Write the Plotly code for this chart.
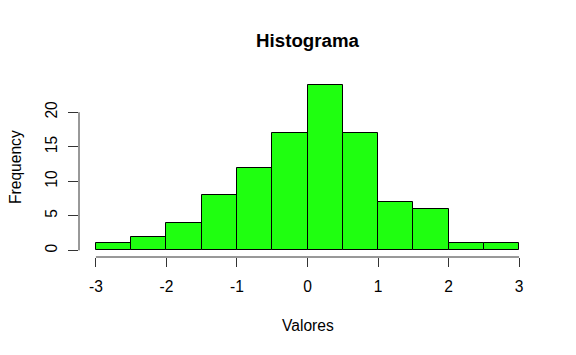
import plotly.graph_objects as go

bin_edges = [-3.0, -2.5, -2.0, -1.5, -1.0, -0.5, 0.0, 0.5, 1.0, 1.5, 2.0, 2.5, 3.0]
counts = [1, 2, 4, 8, 12, 17, 24, 17, 7, 6, 1, 1]
x_ticks = [-3, -2, -1, 0, 1, 2, 3]
y_ticks = [0, 5, 10, 15, 20]

centers = [(a + b) / 2 for a, b in zip(bin_edges[:-1], bin_edges[1:])]
widths = [b - a for a, b in zip(bin_edges[:-1], bin_edges[1:])]

FONT = "Liberation Sans, Arial, Helvetica, sans-serif"

fig = go.Figure()
fig.add_trace(go.Bar(
    x=centers, y=counts, width=widths,
    marker=dict(color="#1FFF10", line=dict(color="black", width=1)),
    hoverinfo="x+y",
))

fig.update_layout(
    width=576, height=355,
    margin=dict(l=79, r=40, t=78, b=98),
    paper_bgcolor="white", plot_bgcolor="white",
    showlegend=False,
    bargap=0,
    font=dict(family=FONT, size=15.6, color="black"),
    title=dict(text="<b>Histograma</b>", x=0.5, xref="paper", xanchor="center",
               y=1 - 40 / 355, yref="container", yanchor="middle",
               font=dict(size=18.7, family=FONT, color="black")),
    xaxis=dict(range=[-3.24, 3.24], tickvals=x_ticks, ticktext=[str(v) for v in x_ticks],
               ticks="outside", ticklen=9, tickcolor="#333", tickwidth=1,
               showgrid=False, zeroline=False, showline=False,
               ticklabelstandoff=6),
    yaxis=dict(range=[-0.96, 24.96], tickvals=y_ticks, ticks="outside", ticklen=10,
               tickcolor="#333", tickwidth=1, tickangle=-90,
               showgrid=False, zeroline=False, showline=False,
               ticklabelstandoff=5),
    annotations=[
        dict(text="Valores", xref="paper", yref="paper", x=0.5, y=(257 - 325) / 179,
             xanchor="center", yanchor="middle", showarrow=False,
             font=dict(size=15.6, family=FONT)),
        dict(text="Frequency", xref="paper", yref="paper", x=(15 - 79) / 457, y=(257 - 167) / 179,
             xanchor="center", yanchor="middle", showarrow=False, textangle=-90,
             font=dict(size=15.6, family=FONT)),
    ],
    shapes=[
        dict(type="line", xref="x", yref="paper", x0=x_ticks[0], x1=x_ticks[-1], y0=0, y1=0,
             line=dict(color="#333", width=1)),
        dict(type="line", xref="paper", yref="y", x0=0, x1=0, y0=y_ticks[0], y1=y_ticks[-1],
             line=dict(color="#333", width=1)),
    ],
)

fig.write_html("out.html")
